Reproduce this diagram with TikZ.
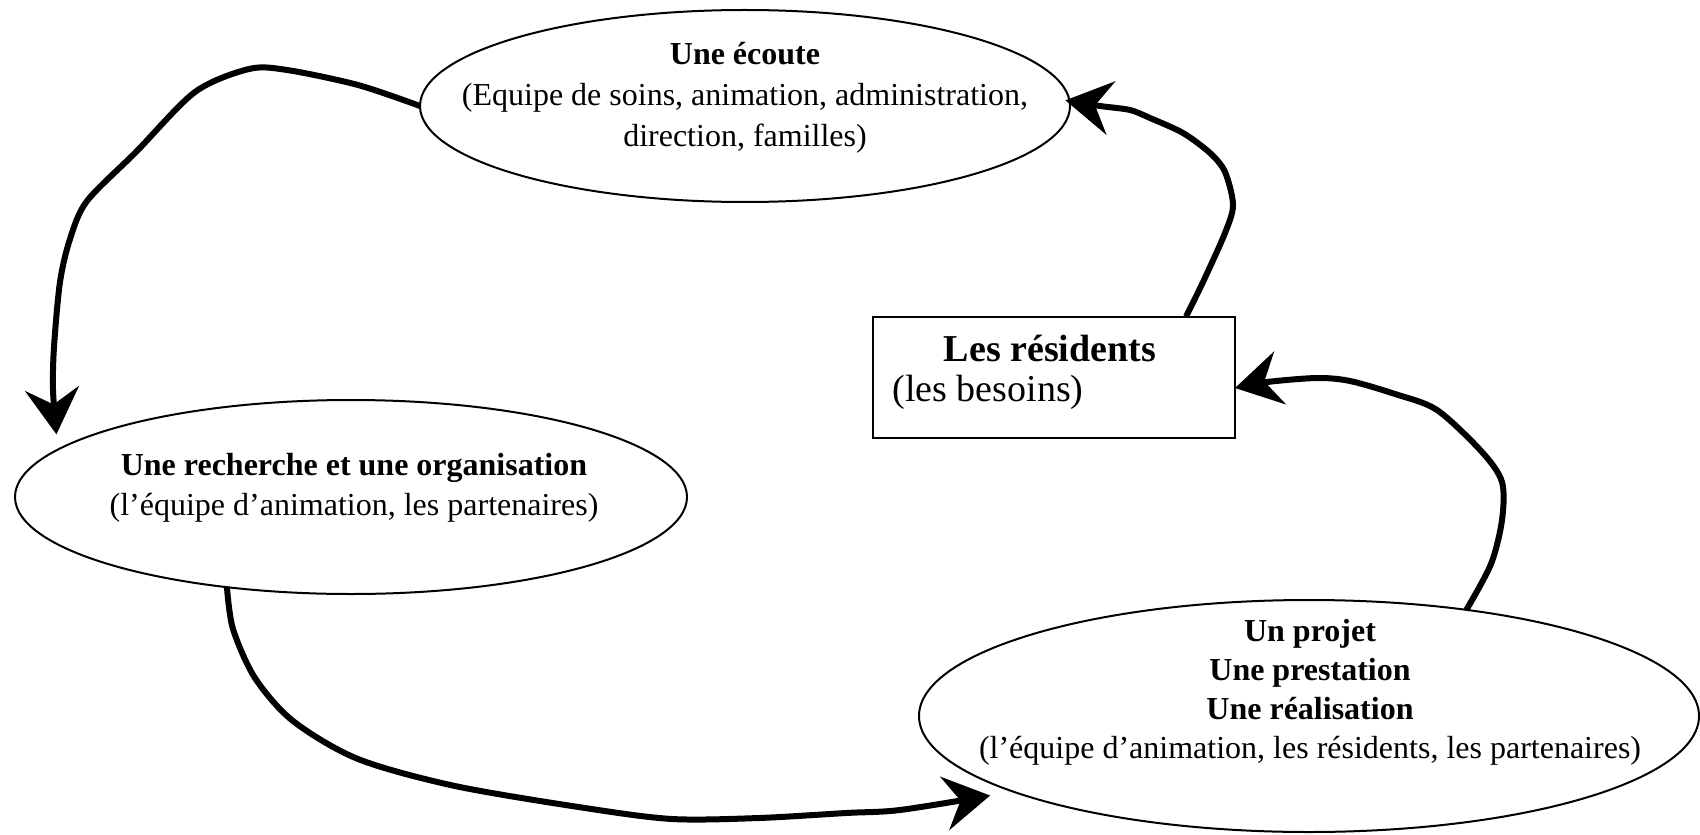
\documentclass[tikz,border=0pt]{standalone}
\usepackage{fontspec}
\setmainfont{Liberation Serif}
\usetikzlibrary{arrows.meta,shapes.geometric}
\begin{document}
\begin{tikzpicture}[x=0.5pt,y=-0.5pt,
  oval/.style={draw,ellipse,line width=1pt,inner sep=0pt,outer sep=0pt},
  flow/.style={line width=3pt,-{Stealth[length=23pt,width=27pt,inset=8pt]}},
  lbl/.style={align=center,inner sep=0pt}]
\useasboundingbox (0,0) rectangle (1700,834);
% shapes
\node[oval,minimum width=325pt,minimum height=96pt] (e1) at (745,106) {};
\node[oval,minimum width=336pt,minimum height=97pt] (e2) at (351,497) {};
\node[oval,minimum width=390pt,minimum height=116pt] (e3) at (1309,716) {};
\node[draw,line width=1pt,inner sep=0pt,outer sep=0pt,minimum width=181pt,minimum height=60.5pt] (res) at (1054,377) {};
% texts
\node[lbl,font=\fontsize{16pt}{20.5pt}\selectfont] (t1) at (745,98)
  {\textbf{Une écoute}\\(Equipe de soins, animation, administration,\\direction, familles)};
\node[lbl,font=\fontsize{16pt}{20pt}\selectfont] (t2) at (354,488)
  {\textbf{Une recherche et une organisation}\\(l’équipe d’animation, les partenaires)};
\node[lbl,font=\fontsize{16pt}{19.5pt}\selectfont] (t3) at (1310,692)
  {\textbf{Un projet}\\\textbf{Une prestation}\\\textbf{Une réalisation}\\(l’équipe d’animation, les résidents, les partenaires)};
\node[inner sep=0pt,anchor=base,font=\fontsize{19pt}{22pt}\selectfont\bfseries] (t4) at (1050,361) {Les résidents};
\node[inner sep=0pt,anchor=base west,font=\fontsize{19pt}{22pt}\selectfont] (t5) at (892,401) {(les besoins)};
% connectors
\draw[flow] plot[smooth,tension=0.5] coordinates {(e1.west) (358,85) (287,70) (249,69) (195,92) (136,152) (87,201) (70,239) (60,282) (54,347) (53,390) ([yshift=8pt]e2.171)};
\draw[flow] plot[smooth,tension=0.5] coordinates {(e2.216) (233,629) (255,678) (293,721) (358,759) (455,786) (585,808) (672,819) (759,818) (846,813) (900,810) ([xshift=-10pt,yshift=-2.5pt]e3.194)};
\draw[flow] plot[smooth,tension=0.5] coordinates {(e3.34) (1491,564) (1502,520) (1502,482) (1482,452) (1437,410) (1395,394) (1350,381) (1317,378) (1267,382) ([yshift=-5.5pt]res.east)};
\draw[flow] plot[smooth,tension=0.5] coordinates {([xshift=-24.5pt]res.north east) (1203,282) (1225,233) (1233,205) (1225,172) (1210,153) (1183,133) (1150,118) (1130,110) (1100,106) ([xshift=-2pt]e1.1)};
\end{tikzpicture}
\end{document}
